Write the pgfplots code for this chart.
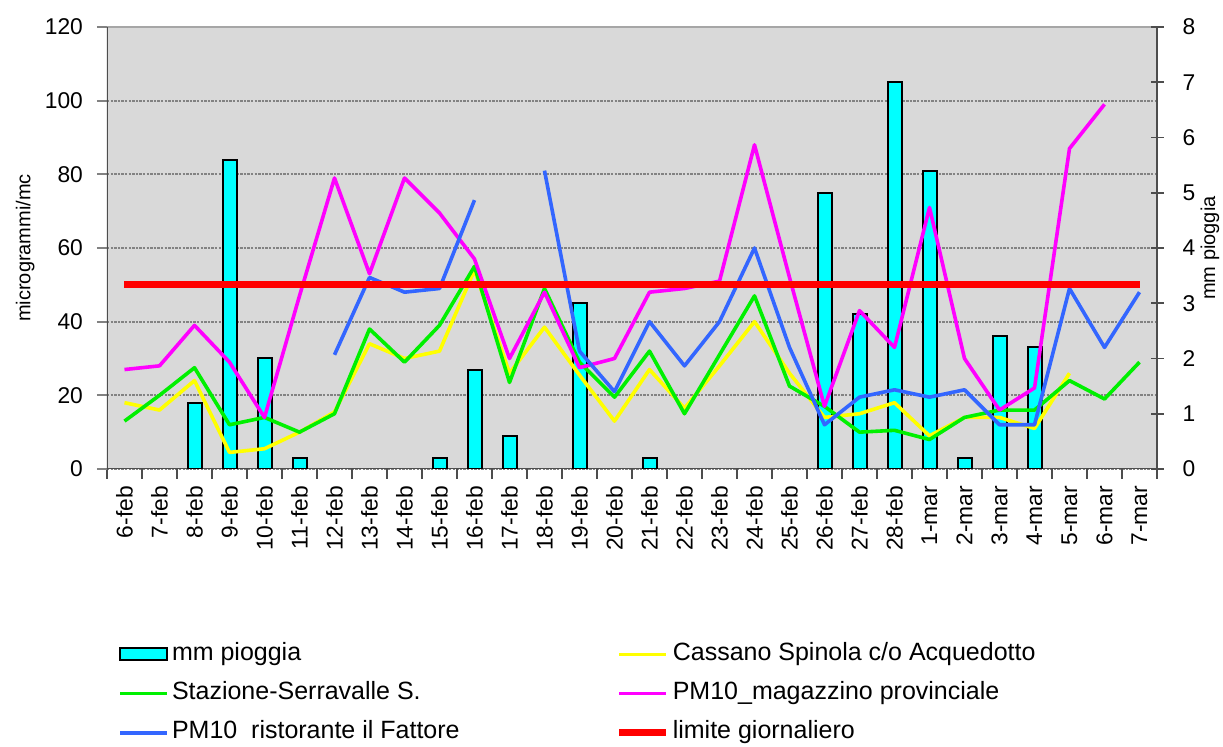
\documentclass[border=0pt]{standalone}
\usepackage{pgfplots}
\pgfplotsset{compat=1.18}
\usepackage{pgfplotstable}
\usepackage{fontspec}
\setmainfont{Liberation Sans}

\definecolor{plotbg}{RGB}{217,217,217}
\definecolor{gridgray}{RGB}{130,130,130}
\definecolor{axisdark}{RGB}{77,77,77}
\definecolor{topgray}{RGB}{166,166,166}
\definecolor{rainfill}{RGB}{0,255,255}
\definecolor{cassano}{RGB}{255,255,0}
\definecolor{stazione}{RGB}{0,240,0}
\definecolor{magazzino}{RGB}{255,0,255}
\definecolor{fattore}{RGB}{51,102,255}
\definecolor{limite}{RGB}{255,0,0}

% daily values, 6 Feb - 7 Mar (rain in mm, PM10 in microgrammi/mc)
\pgfplotstableread{
idx rain cassano stazione magazzino fattore
0  nan  18   13   27   nan
1  nan  16   20   28   nan
2  1.2  24   27.5 39   nan
3  5.6  4.5  12   29   nan
4  2.0  5.5  14   14   nan
5  0.2  10   10   47   nan
6  nan  15.5 15   79   31
7  nan  34   38   53   52
8  nan  30   29   79   48
9  0.2  32   39   69.5 49
10 1.8  54   55   57   73
11 0.6  26   23.5 30   nan
12 nan  38.5 49   48   81
13 3.0  25.5 29   27.5 32
14 nan  13   19.5 30   21
15 0.2  27   32   48   40
16 nan  16.5 15   49   28
17 nan  28   31   51   40
18 nan  40   47   88   60
19 nan  26   22.5 52   33
20 5.0  14   17   17   12
21 2.8  15   10   43   19.5
22 7.0  18   10.5 33   21.5
23 5.4  9    8    71   19.5
24 0.2  14   14   30   21.5
25 2.4  14   16   16   12
26 2.2  11   16   22   12
27 nan  26   24   87   49
28 nan  nan  19   99   33
29 nan  nan  29   nan  48
}\pmdata

\pgfplotsset{
  base/.style={
    at={(0,0)}, anchor=south west, scale only axis,
    width=525pt, height=221pt,
    xmin=-0.5, xmax=29.5,
    /pgf/number format/assume math mode=true,
    tick label style={font=\fontsize{11.4}{13}\selectfont},
    label style={font=\fontsize{12.5}{15}\selectfont},
  },
  series/.style={line width=1.8pt, line join=round, #1},
}

\begin{document}
\begin{tikzpicture}

% frame, grid and date axis (left scale 0-120)
\begin{axis}[base,
  ymin=0, ymax=120,
  axis line style={draw=none},
  axis background/.style={fill=plotbg},
  ytick={0,20,...,120}, ytick pos=left,
  yticklabel style={xshift=-3.5pt},
  ymajorgrids,
  major grid style={draw=gridgray, line width=1pt, dash pattern=on 1.2pt off 0.6pt},
  ytick style={draw=gridgray, line width=1pt},
  xtick={-0.5,0.5,...,29.5}, x tick label as interval, xtick pos=bottom,
  xticklabels={6-feb,7-feb,8-feb,9-feb,10-feb,11-feb,12-feb,13-feb,14-feb,15-feb,
    16-feb,17-feb,18-feb,19-feb,20-feb,21-feb,22-feb,23-feb,24-feb,25-feb,
    26-feb,27-feb,28-feb,1-mar,2-mar,3-mar,4-mar,5-mar,6-mar,7-mar},
  xtick style={draw=axisdark, line width=0.8pt},
  xticklabel style={rotate=90, anchor=east, font=\fontsize{11.4}{13}\selectfont},
  tick align=outside, major tick length=5pt,
  ylabel={microgrammi/mc},
  every axis y label/.style={at={(axis description cs:-0.078,0.5)}, rotate=90, anchor=center},
]
\draw[topgray, line width=1.2pt] ([xshift=-5pt]rel axis cs:0,1) -- (rel axis cs:1,1);
\draw[axisdark, line width=1pt] ([xshift=-5pt]rel axis cs:0,0) -- (rel axis cs:1,0);
\draw[axisdark, line width=1pt] (rel axis cs:0,0) -- (rel axis cs:0,1);
\end{axis}

% rainfall bars on the right scale 0-8
\begin{axis}[base,
  ymin=0, ymax=8,
  axis x line=none, axis y line*=right,
  y axis line style={draw=axisdark, line width=1pt},
  ytick={0,...,8},
  yticklabel style={xshift=6pt},
  tick align=center, major tick length=6.5pt,
  ytick style={draw=axisdark, line width=0.8pt},
  ylabel={mm pioggia},
  every axis y label/.style={at={(axis description cs:1.0505,0.5)}, rotate=90, anchor=center},
  ybar, bar width=7pt,
]
\addplot[fill=rainfill, draw=black, line width=1pt, bar shift=0pt]
  table[x=idx, y=rain] {\pmdata};
\end{axis}

% PM10 series on the left scale
\begin{axis}[base,
  ymin=0, ymax=120, hide axis,
  unbounded coords=jump,
  legend columns=2,
  legend cell align=left,
  legend style={at={(axis description cs:0.0105,-0.508)}, anchor=west,
    draw=none, fill=none, inner sep=0pt, column sep=1.5pt, row sep=7.6pt,
    font=\fontsize{12.5}{15}\selectfont,
    nodes={inner sep=0pt, text height=9pt, text depth=3pt}},
  legend image code/.code={\draw[#1] (0pt,0pt) -- (23.5pt,0pt);},
]
\addlegendimage{legend image code/.code={\draw[fill=rainfill, draw=black, line width=1pt] (0pt,-3pt) rectangle (23.5pt,3pt);}}
\addlegendentry{\makebox[220.5pt][l]{mm pioggia}}
\addplot[series=cassano] table[x=idx, y=cassano] {\pmdata};
\addlegendentry{Cassano Spinola c/o Acquedotto}
\addplot[series=stazione] table[x=idx, y=stazione] {\pmdata};
\addlegendentry{\makebox[220.5pt][l]{Stazione-Serravalle S.}}
\addplot[series=magazzino] table[x=idx, y=magazzino] {\pmdata};
\addlegendentry{PM10\_magazzino provinciale}
\addplot[series=fattore] table[x=idx, y=fattore] {\pmdata};
\addlegendentry{\makebox[220.5pt][l]{PM10~~ristorante il Fattore}}
\addplot[limite, line width=3.4pt] coordinates {(0,50) (29,50)};
\addlegendentry{limite giornaliero}
\end{axis}

\pgfresetboundingbox
\path[use as bounding box] (-53.5pt,-139pt) rectangle (558pt,234.5pt);
\end{tikzpicture}
\end{document}
